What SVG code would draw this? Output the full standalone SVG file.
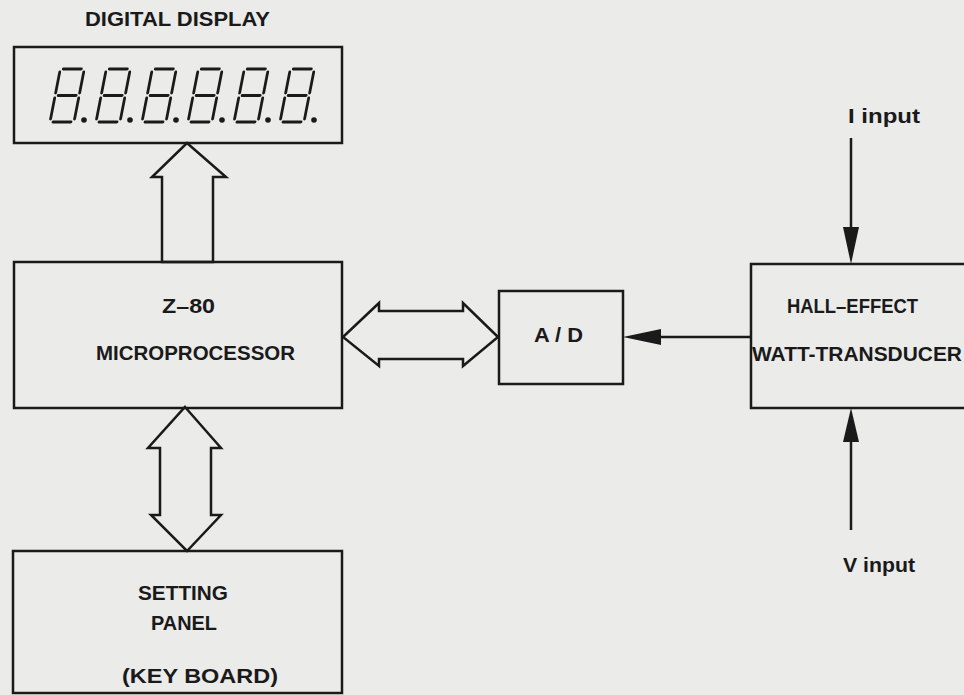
<svg xmlns="http://www.w3.org/2000/svg" width="964" height="695" viewBox="0 0 964 695">
<style>
.bg{fill:#ebebea}
.box{fill:none;stroke:#1a1a1a;stroke-width:2.5}
.harrow{fill:none;stroke:#1a1a1a;stroke-width:2.5;stroke-linejoin:miter}
.line{fill:none;stroke:#1a1a1a;stroke-width:2.5}
.head{fill:#1a1a1a;stroke:none}
.seg{fill:none;stroke:#1a1a1a;stroke-width:2.8;stroke-linecap:round}
.t{font-family:"Liberation Sans",Arial,sans-serif;font-weight:bold;font-size:19.5px;fill:#1a1a1a}
</style>
<defs>
<g id="digit">
<path class="seg" d="M3,-53 H21 M0,-50 V-29 M24,-50 V-29 M3,-26.5 H21 M0,-24 V-3 M24,-24 V-3 M3,0 H21"/>
</g>
</defs>
<rect class="bg" x="0" y="0" width="964" height="695"/>

<g id="display">
<text class="t" x="85" y="26" textLength="185" lengthAdjust="spacingAndGlyphs">DIGITAL  DISPLAY</text>
<rect class="box" x="14" y="47" width="328" height="96"/>
<g transform="translate(50,122) skewX(-11)"><use href="#digit"/></g>
<g transform="translate(96,122) skewX(-11)"><use href="#digit"/></g>
<g transform="translate(142,122) skewX(-11)"><use href="#digit"/></g>
<g transform="translate(188,122) skewX(-11)"><use href="#digit"/></g>
<g transform="translate(234,122) skewX(-11)"><use href="#digit"/></g>
<g transform="translate(280,122) skewX(-11)"><use href="#digit"/></g>
<g class="head">
<circle cx="84" cy="120" r="2.8"/><circle cx="130" cy="120" r="2.8"/><circle cx="176" cy="120" r="2.8"/>
<circle cx="222" cy="120" r="2.8"/><circle cx="268" cy="120" r="2.8"/><circle cx="314" cy="120" r="2.8"/>
</g>
</g>

<g id="microprocessor">
<rect class="box" x="14" y="262" width="328" height="146"/>
<text class="t" x="162" y="313" textLength="53" lengthAdjust="spacingAndGlyphs">Z–80</text>
<text class="t" x="96" y="360" textLength="199" lengthAdjust="spacingAndGlyphs">MICROPROCESSOR</text>
</g>

<g id="ad">
<rect class="box" x="499" y="291" width="124" height="93"/>
<text class="t" x="534" y="342" textLength="49" lengthAdjust="spacingAndGlyphs">A / D</text>
</g>

<g id="hall">
<path class="box" d="M966,264 H751 V408 H966"/>
<text class="t" x="787" y="313" textLength="131" lengthAdjust="spacingAndGlyphs">HALL–EFFECT</text>
<text class="t" x="752" y="361" textLength="210" lengthAdjust="spacingAndGlyphs">WATT-TRANSDUCER</text>
</g>

<g id="setting">
<rect class="box" x="13" y="551" width="329" height="142"/>
<text class="t" x="138" y="600" textLength="90" lengthAdjust="spacingAndGlyphs">SETTING</text>
<text class="t" x="151" y="630" textLength="66" lengthAdjust="spacingAndGlyphs">PANEL</text>
<text class="t" x="122" y="683" textLength="156" lengthAdjust="spacingAndGlyphs">(KEY  BOARD)</text>
</g>

<g id="i-input">
<text class="t" x="848" y="123" textLength="72" lengthAdjust="spacingAndGlyphs">I input</text>
</g>
<g id="v-input">
<text class="t" x="843" y="572" textLength="72" lengthAdjust="spacingAndGlyphs">V input</text>
</g>

<g id="connectors">
<polygon class="harrow" points="162,262 162,177 152,177 187,143 226,177 213,177 213,262"/>
<polygon class="harrow" points="343,337 379,303 379,311 463,311 463,303 498,337 463,366 463,359 379,359 379,366"/>
<polygon class="harrow" points="185,407 221,448 211,448 211,515 221,515 187,551 151,515 160,515 160,448 148,448"/>
<line class="line" x1="751" y1="337" x2="655" y2="337"/>
<polygon class="head" points="623,337 661,329 661,345"/>
<line class="line" x1="851" y1="138" x2="851" y2="232"/>
<polygon class="head" points="851,264 843,227 859,227"/>
<line class="line" x1="851" y1="530" x2="851" y2="438"/>
<polygon class="head" points="851,408 843,442 859,442"/>
</g>
</svg>
